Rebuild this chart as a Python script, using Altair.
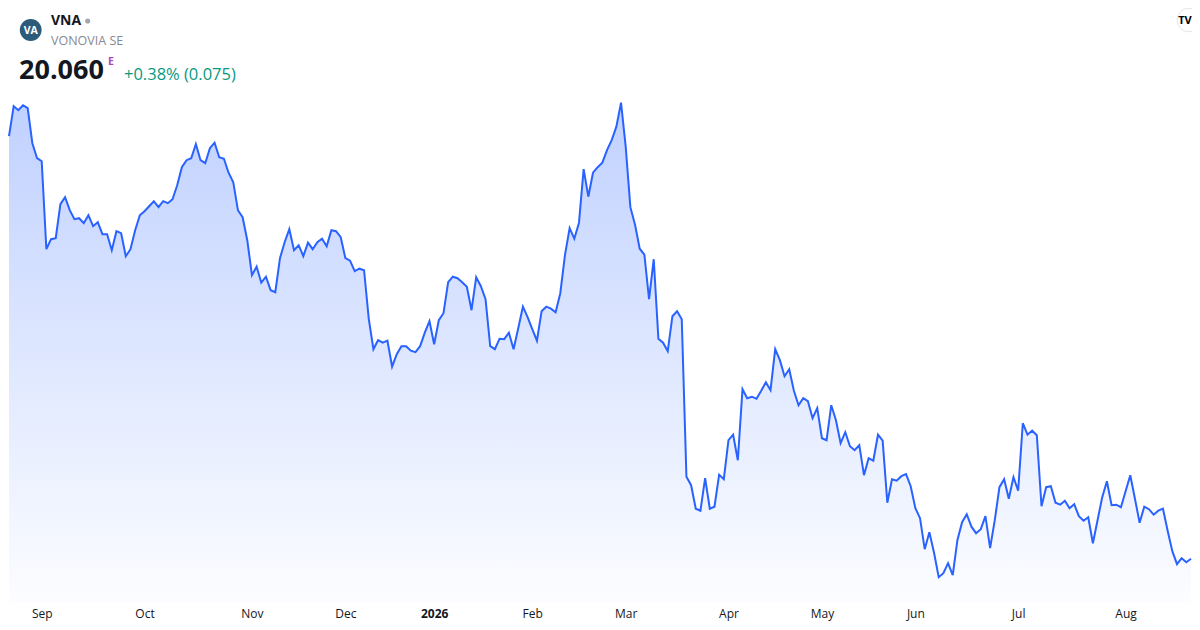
import altair as alt
import pandas as pd

# Daily closes (EUR), Aug 2025 -> Aug 2026
prices_a = [28.51, 29.11, 29.03, 29.13, 29.07, 28.37, 28.07, 28.01, 26.25, 26.45,
            26.47, 27.15, 27.29, 27.03, 26.85, 26.87, 26.77, 26.93, 26.71, 26.79,
            26.55, 26.55, 26.23, 26.61, 26.57, 26.11, 26.25, 26.63, 26.93, 27.01,
            27.11, 27.21, 27.09, 27.21, 27.17, 27.25, 27.53, 27.89, 28.03, 28.07,
            28.35, 28.03, 27.97]
prices_b = [28.27, 28.38, 28.09, 28.06, 27.78, 27.59, 27.03, 26.89, 26.43, 25.73,
            25.90, 25.58, 25.70, 25.43, 25.39, 26.07, 26.39, 26.65, 26.23, 26.33,
            26.11, 26.38, 26.25, 26.39, 26.46, 26.31, 26.63, 26.61, 26.49, 26.07,
            26.02, 25.81, 25.86, 25.83, 24.86, 24.25, 24.43, 24.38, 24.42, 23.90]
prices_c = [24.15, 24.31, 24.31, 24.22, 24.19, 24.31, 24.58, 24.81, 24.35, 24.83,
            24.97, 25.59, 25.70, 25.67, 25.59, 25.50, 25.03, 25.69, 25.51, 25.25,
            24.31, 24.25, 24.46, 24.45, 24.58, 24.25, 24.67, 25.10, 24.89, 24.65,
            24.42, 25.01, 25.10, 25.06, 24.99, 25.37]
prices_d = [26.13, 26.67, 26.46, 26.78, 27.85, 27.30, 27.78, 27.89, 27.98, 28.23,
            28.43, 28.70, 29.18, 28.30, 27.09, 26.74, 26.26, 26.14, 25.25, 26.05,
            24.46, 24.38, 24.21, 24.91, 25.01, 24.85]
prices_e = [21.70, 21.53, 21.06, 21.02, 21.67, 21.06, 21.10, 21.74, 21.65, 22.43,
            22.54, 22.03, 23.45, 23.27, 23.30, 23.26, 23.42, 23.59, 23.43, 24.25,
            24.03, 23.71, 23.85, 23.42, 23.13, 23.27, 23.21, 22.87, 23.07, 22.47,
            22.43, 23.13, 22.83, 22.37, 22.59, 22.31]
prices_f = [22.23, 22.33, 21.73, 22.07, 22.02, 22.54, 22.42, 21.18, 21.65, 21.62,
            21.71, 21.75, 21.51, 21.07, 20.87, 20.25, 20.59, 20.18, 19.69, 19.77,
            19.97, 19.73, 20.43, 20.79, 20.95, 20.70, 20.57, 20.65, 20.91, 20.27,
            20.83, 21.49, 21.65, 21.26, 21.69, 21.42]
prices_g = [22.77, 22.54, 22.62, 22.53, 21.11, 21.49, 21.51, 21.18, 21.14, 21.22,
            21.07, 21.15, 20.91, 20.82, 20.89, 20.37, 20.83, 21.29, 21.61, 21.13,
            21.14, 21.09, 21.41, 21.73, 21.26, 20.78, 21.10, 21.05, 20.94, 21.02,
            21.06, 20.62, 20.21, 19.95, 20.07, 19.99, 20.06]
prices = prices_a + prices_b + prices_c + prices_d + prices_e + prices_f + prices_g

# x-axis: first trading day of each month (bar index) and its label
month_labels = ["Sep", "Oct", "Nov", "Dec", "2026", "Feb", "Mar", "Apr", "May", "Jun", "Jul", "Aug"]
month_start_idx = [7, 29, 52, 72, 91, 112, 132, 154, 174, 194, 216, 239]
bold_label = "2026"

ticker = "VNA"
company = "VONOVIA SE"
last_price = "20.060"
change_text = "+0.38% (0.075)"

df = pd.DataFrame({"i": list(range(len(prices))), "price": prices})

W, H = 1184, 614
FONT = "Open Sans"

label_expr = "".join(f"datum.value == {v} ? '{l}' : " for v, l in zip(month_start_idx, month_labels)) + "''"
bold_idx = month_start_idx[month_labels.index(bold_label)]

x_scale = alt.Scale(domain=[0, len(prices) - 1], range=[1, 1183], nice=False, zero=False)
x_enc = alt.X(
    "i:Q",
    scale=x_scale,
    axis=alt.Axis(
        values=month_start_idx,
        labelExpr=label_expr,
        title=None,
        grid=False,
        ticks=False,
        domain=False,
        labelFlush=False,
        labelOverlap=False,
        labelFont=FONT,
        labelFontSize=12,
        labelColor="#131722",
        labelBaseline="middle",
        labelPadding=0,
        offset=-9,
        zindex=2,
        labelFontWeight={"condition": {"test": f"datum.value == {bold_idx}", "value": "bold"}, "value": "normal"},
    ),
)
y_scale = alt.Scale(domain=[18.794, 31.074], nice=False, zero=False)
y_enc = alt.Y("price:Q", scale=y_scale, axis=None, stack=None)

base = alt.Chart(df)

area = base.mark_area(
    color=alt.Gradient(
        gradient="linear",
        stops=[
            alt.GradientStop(color="#fcfdff", offset=0),
            alt.GradientStop(color="#c0d1ff", offset=1),
        ],
        x1=1, x2=1, y1=1, y2=0,
    ),
    interpolate="linear",
).encode(x=x_enc, y=y_enc, y2=alt.value(595))

line = base.mark_line(color="#2962FF", strokeWidth=2, interpolate="linear").encode(
    x=alt.X("i:Q", scale=x_scale), y=alt.Y("price:Q", scale=y_scale, axis=None)
)

one = alt.Data(values=[{"k": 0}])

def txt(text, x, y, size, color, weight="normal", align="left"):
    return alt.Chart(one).mark_text(
        text=text, font=FONT, fontSize=size, color=color, fontWeight=weight,
        align=align, baseline="middle",
    ).encode(x=alt.value(x), y=alt.value(y))

logo = alt.Chart(one).mark_circle(size=475, color="#2c5b7a", opacity=1).encode(
    x=alt.value(22.7), y=alt.value(22)
)
logo_txt = txt("VA", 22.7, 22.5, 10.5, "#ffffff", weight="bold", align="center")
t_ticker = txt(ticker, 43, 13, 14, "#131722", weight="bold")
dot = alt.Chart(one).mark_circle(size=26, color="#a3a6af", opacity=1).encode(
    x=alt.value(79.7), y=alt.value(13)
)
t_company = txt(company, 43, 32.5, 12.5, "#868993")
t_price = txt(last_price, 11, 63, 27, "#131722", weight="bold")
t_e = txt("E", 100, 54, 10.5, "#ab47bc", weight="bold")
t_change = txt(change_text, 116, 67, 16.5, "#089981")

tv_bg = alt.Chart(one).mark_circle(size=560, color="#ffffff", opacity=1, stroke="#e3e5eb", strokeWidth=1).encode(
    x=alt.value(1181), y=alt.value(12)
)
tv_txt = txt("TV", 1177, 12.5, 11, "#000000", weight="bold", align="center")

chart = alt.layer(
    area, line, logo, logo_txt, t_ticker, dot, t_company, t_price, t_e, t_change, tv_bg, tv_txt
).properties(
    width=W, height=H, background="#ffffff", padding=0,
    autosize=alt.AutoSizeParams(type="none"),
).configure_view(stroke=None)

chart.save("out.html", embed_options={"renderer": "svg", "actions": False})
